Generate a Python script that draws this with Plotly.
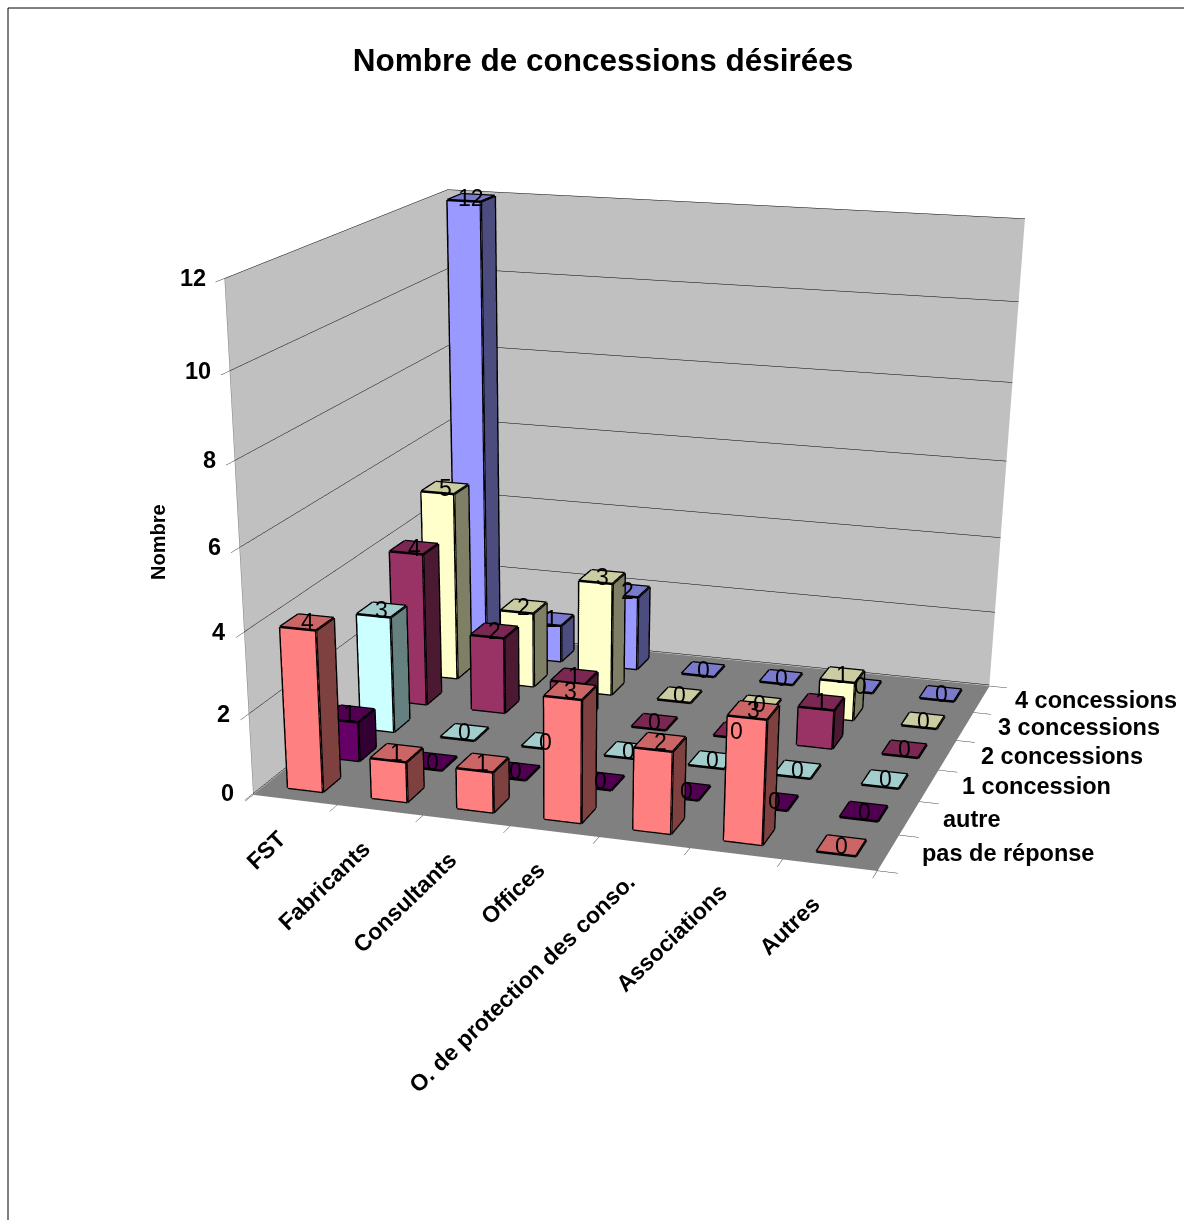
import plotly.graph_objects as go

CATEGORIES = ["FST", "Fabricants", "Consultants", "Offices",
              "O. de protection des conso.", "Associations", "Autres"]
SERIES = ["pas de réponse", "autre", "1 concession", "2 concessions",
          "3 concessions", "4 concessions"]
PAS_DE_REPONSE = [4, 1, 1, 3, 2, 3, 0]
AUTRE = [1, 0, 0, 0, 0, 0, 0]
UNE_CONCESSION = [3, 0, 0, 0, 0, 0, 0]
DEUX_CONCESSIONS = [4, 2, 1, 0, 0, 1, 0]
TROIS_CONCESSIONS = [5, 2, 3, 0, 0, 1, 0]
QUATRE_CONCESSIONS = [12, 1, 2, 0, 0, 0, 0]
VALUES = [PAS_DE_REPONSE, AUTRE, UNE_CONCESSION, DEUX_CONCESSIONS,
          TROIS_CONCESSIONS, QUATRE_CONCESSIONS]
COLORS = [(255, 128, 128), (102, 0, 102), (204, 255, 255),
          (153, 51, 102), (255, 255, 204), (153, 153, 255)]
Z_TICKS = [0, 2, 4, 6, 8, 10, 12]

# Page size. Plotly's 3D field of view is fixed at 45 degrees, so the scene is
# made taller than the visible page to keep the perspective shallow.
W = 1184
H = 2200
SCENE_CENTRE_X = 560.2

EYE = dict(x=1.0398, y=-3.4698, z=0.9235)
CENTRE = dict(x=0.1373, y=-0.7765, z=-0.5233)
ASPECT = dict(x=0.8591, y=0.7796, z=0.6768)

BAR_W = 0.42
BAR_D = 0.46
FONT = "Liberation Sans"


def shade(rgb, k):
    return "rgb(%d,%d,%d)" % tuple(int(c * k) for c in rgb)


# Box corners and faces for every bar; only the front, right and top faces show.
vx, vy, vz = [], [], []
ii, jj, kk, face_colors = [], [], [], []
ex, ey, ez = [], [], []
for s, row in enumerate(VALUES):
    for c, val in enumerate(row):
        x0, x1 = c + .5 - BAR_W / 2, c + .5 + BAR_W / 2
        y0, y1 = s + .5 - BAR_D / 2, s + .5 + BAR_D / 2
        n = len(vx)
        vx += [x0, x1, x1, x0, x0, x1, x1, x0]
        vy += [y0, y0, y1, y1, y0, y0, y1, y1]
        vz += [0, 0, 0, 0, val, val, val, val]
        for face, k in (((0, 1, 5, 4), 1), ((1, 2, 6, 5), .5), ((4, 5, 6, 7), .8)):
            for tri in ((face[0], face[1], face[2]), (face[0], face[2], face[3])):
                ii.append(n + tri[0])
                jj.append(n + tri[1])
                kk.append(n + tri[2])
                face_colors.append(shade(COLORS[s], k))
        for a, b in ((0, 1), (1, 2), (0, 4), (1, 5), (2, 6), (4, 5), (5, 6), (6, 7), (7, 4)):
            ex += [vx[n + a], vx[n + b], None]
            ey += [vy[n + a], vy[n + b], None]
            ez += [vz[n + a], vz[n + b], None]

fig = go.Figure()
fig.add_trace(go.Mesh3d(x=vx, y=vy, z=vz, i=ii, j=jj, k=kk, facecolor=face_colors,
                        flatshading=True, hoverinfo="skip",
                        lighting=dict(ambient=1, diffuse=0, specular=0, fresnel=0)))
fig.add_trace(go.Scatter3d(x=ex, y=ey, z=ez, mode="lines", hoverinfo="skip",
                           line=dict(color="black", width=5)))

# Value labels and axis labels, anchored to the scene's own coordinates.
notes = []
for s, row in enumerate(VALUES):
    for c, val in enumerate(row):
        notes.append(dict(x=c + .5, y=s + .5, z=val, text=str(val), showarrow=False,
                          xanchor="center", yanchor="middle",
                          font=dict(family=FONT, size=23, color="black")))
for v in Z_TICKS:
    notes.append(dict(x=0, y=0, z=v, text=f"<b>{v}</b>", showarrow=False,
                      xanchor="right", yanchor="middle", xshift=-17,
                      font=dict(family=FONT, size=23.5, color="black")))
for c, name in enumerate(CATEGORIES):
    notes.append(dict(x=c + .5, y=0, z=0, text=f"<b>{name}</b>", showarrow=False,
                      xanchor="right", yanchor="top", textangle=-44, xshift=-2, yshift=-24,
                      font=dict(family=FONT, size=23, color="black")))
for s, name in enumerate(SERIES):
    notes.append(dict(x=7, y=s + .5, z=0, text=f"<b>{name}</b>", showarrow=False,
                      xanchor="left", yanchor="middle", xshift=31, yshift=-2,
                      font=dict(family=FONT, size=23.5, color="black")))


def axis(rng, vals, **kw):
    return dict(range=rng, autorange=False, tickvals=vals, showticklabels=False,
                ticks="outside", ticklen=16, tickcolor="#333333", title=dict(text=""),
                showline=True, linecolor="#808080", showspikes=False, zeroline=False,
                showbackground=True, **kw)


fig.update_layout(
    width=W, height=H, margin=dict(l=0, r=0, t=0, b=0),
    paper_bgcolor="white", showlegend=False,
    title=dict(text="<b>Nombre de concessions désirées</b>",
               x=603 / W, y=1 - 60 / H, xanchor="center", yanchor="middle",
               font=dict(family=FONT, size=31.5, color="black")),
    scene=dict(
        domain=dict(x=[0, 2 * SCENE_CENTRE_X / W], y=[0, 1]),
        aspectmode="manual", aspectratio=ASPECT,
        camera=dict(eye=EYE, center=CENTRE, up=dict(x=0, y=0, z=1)),
        xaxis=axis([0, 7], list(range(8)), backgroundcolor="#C0C0C0", showgrid=False),
        yaxis=axis([0, 6], list(range(7)), backgroundcolor="#C0C0C0", showgrid=False),
        # The floor sits just under zero so flat bars stay visible on it.
        zaxis=axis([-0.03, 12], Z_TICKS, backgroundcolor="#808080", showgrid=True,
                   gridcolor="#000000", gridwidth=1),
        annotations=notes),
    annotations=[dict(xref="paper", yref="paper", x=158 / W, y=1 - 542 / H,
                      xanchor="center", yanchor="middle", text="<b>Nombre</b>",
                      textangle=-90, showarrow=False,
                      font=dict(family=FONT, size=20, color="black"))],
    shapes=[dict(type="line", xref="paper", yref="paper", x0=8 / W, x1=8 / W,
                 y0=0, y1=1 - 8 / H, line=dict(color="black", width=1)),
            dict(type="line", xref="paper", yref="paper", x0=8 / W, x1=1,
                 y0=1 - 8 / H, y1=1 - 8 / H, line=dict(color="black", width=1))])

fig.write_html("out.html")
